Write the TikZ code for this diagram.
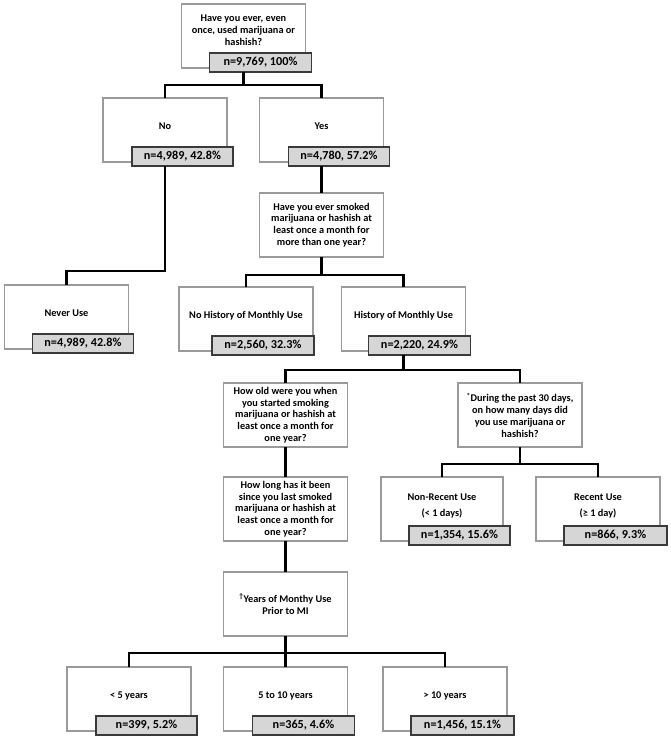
\documentclass[tikz,border=0pt]{standalone}
\usepackage{fontspec}
\setmainfont{Carlito}
\usetikzlibrary{calc}
\definecolor{boxgray}{HTML}{9A9A9A}
\definecolor{darkline}{HTML}{3A3A3A}
\definecolor{cellgray}{HTML}{D6D6D6}
\tikzset{
  wbox/.style={draw=boxgray, line width=1.2pt, fill=white, inner sep=0pt, outer sep=0pt, minimum height=64pt},
  gbox/.style={draw=darkline, line width=1.4pt, fill=cellgray, inner sep=0pt, outer sep=0pt, minimum height=19pt, anchor=north west, font=\fontsize{12.2}{14}\selectfont\bfseries},
  lbl/.style={align=center, inner sep=0pt, font=\fontsize{10.3}{11.8}\selectfont\bfseries},
  conn/.style={line width=2.4pt, black}
}
% name, cx, top, width, text yshift, text
\newcommand\wb[6]{\node[wbox, minimum width=#4pt] (#1) at ({#2},{#3+32}) {};
  \node[lbl] (#1-t) at ([yshift=#5pt]#1.center) {#6};}
% box name, xshift, width, text
\newcommand\gb[4]{\node[gbox, minimum width=#3pt] (#1-n) at ([xshift=#2pt, yshift=15pt]#1.south west) {#4};}
\begin{document}
\begin{tikzpicture}[x=1pt,y=-1pt]
\useasboundingbox (0,0) rectangle (671,740);

\wb{top}{243.5}{4}{124}{6}{Have you ever, even\\once, used marijuana or\\hashish?}
\gb{top}{28}{102}{n=9,769, 100\%}

\wb{no}{165}{98}{124}{4}{No}
\gb{no}{29}{101}{n=4,989, 42.8\%}
\wb{yes}{321.5}{98}{124}{4}{Yes}
\gb{yes}{29}{101}{n=4,780, 57.2\%}

\wb{q2}{321.5}{193}{124}{0}{Have you ever smoked\\marijuana or hashish at\\least once a month for\\more than one year?}

\wb{never}{66.5}{285}{124}{4}{Never Use}
\gb{never}{28}{101}{n=4,989, 42.8\%}
\wb{nohist}{246}{287}{134}{3}{No History of Monthly Use}
\gb{nohist}{33}{102}{n=2,560, 32.3\%}
\wb{hist}{403.5}{287}{124}{3}{History of Monthly Use}
\gb{hist}{27}{102}{n=2,220, 24.9\%}

\wb{howold}{285.5}{383}{124}{0}{How old were you when\\you started smoking\\marijuana or hashish at\\least once a month for\\one year?}
\wb{during}{520}{383}{124}{0}{\textsuperscript{*}During the past 30 days,\\on how many days did\\you use marijuana or\\hashish?}
\wb{howlong}{285.5}{477}{124}{0}{How long has it been\\since you last smoked\\marijuana or hashish at\\least once a month for\\one year?}

\wb{nonrec}{442}{477}{122}{3}{Non-Recent Use\\[4pt](< 1 days)}
\gb{nonrec}{28}{101}{n=1,354, 15.6\%}
\wb{rec}{598}{477}{124}{3}{Recent Use\\[4pt](≥ 1 day)}
\gb{rec}{28}{103}{n=866, 9.3\%}

\wb{years}{285.5}{572}{124}{0}{\textsuperscript{†}Years of Monthy Use\\Prior to MI}

\wb{lt5}{129}{667}{124}{3}{< 5 years}
\gb{lt5}{29}{101}{n=399, 5.2\%}
\wb{mid}{285.5}{667}{124}{3}{5 to 10 years}
\gb{mid}{29}{102}{n=365, 4.6\%}
\wb{gt10}{445}{667}{124}{3}{> 10 years}
\gb{gt10}{28}{103}{n=1,456, 15.1\%}

% connectors
\coordinate (j1) at (243.5,85);
\draw[conn] (top.center |- top-n.south) -- (j1);
\draw[conn] (no.north) |- (j1) -| (yes.north);

\coordinate (j2) at (165,271);
\draw[conn] (no.center |- no-n.south) -- (j2) -| (never.north);

\draw[conn] (yes.center |- yes-n.south) -- (q2.north);

\coordinate (j3) at (321.5,275);
\draw[conn] (q2.south) -- (j3);
\draw[conn] (nohist.north) |- (j3) -| (hist.north);

\coordinate (j4) at (403.5,370);
\draw[conn] (hist.center |- hist-n.south) -- (j4);
\draw[conn] (howold.north) |- (j4) -| (during.north);

\draw[conn] (howold.south) -- (howlong.north);

\coordinate (j5) at (520,464);
\draw[conn] (during.south) -- (j5);
\draw[conn] (nonrec.north) |- (j5) -| (rec.north);

\draw[conn] (howlong.south) -- (years.north);

\coordinate (j6) at (285.5,653);
\draw[conn] (years.south) -- (j6);
\draw[conn] (lt5.north) |- (j6) -| (gt10.north);
\draw[conn] (j6) -- (mid.north);
\end{tikzpicture}
\end{document}
